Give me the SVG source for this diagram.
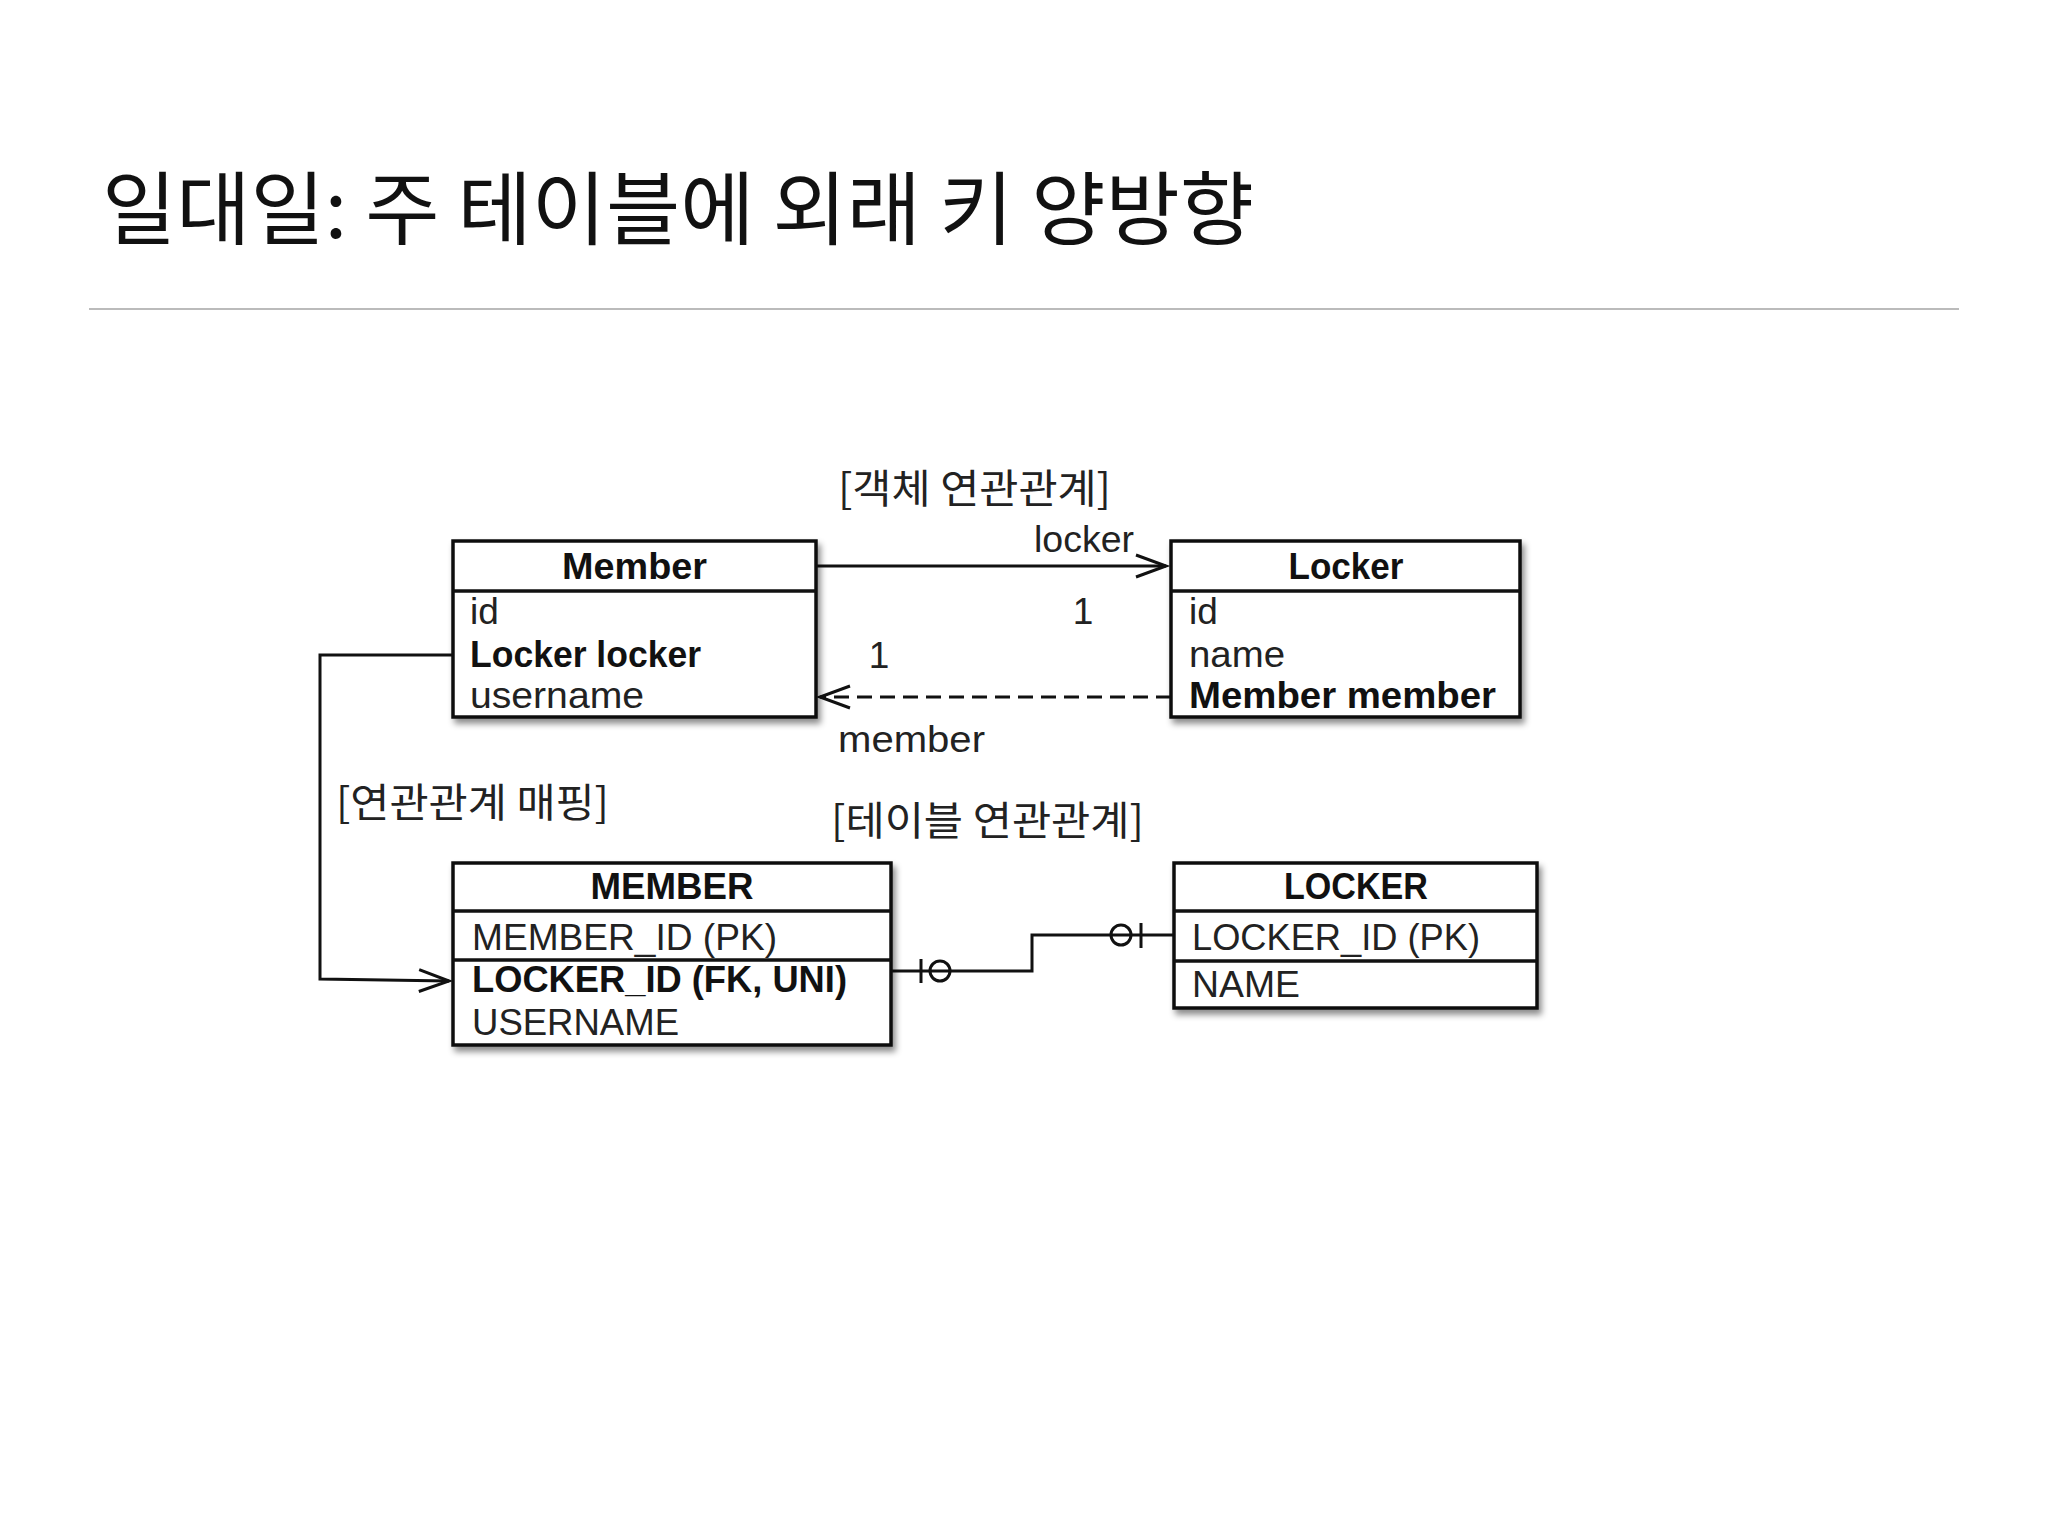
<svg xmlns="http://www.w3.org/2000/svg" width="2048" height="1536" viewBox="0 0 2048 1536">
<style>
  .title{font-family:"Noto Sans CJK KR","Noto Sans",sans-serif;font-size:80px;fill:#111}
  .ko{font-family:"Noto Sans CJK KR","Noto Sans",sans-serif;font-size:40px;fill:#222}
  .t{font-family:"Liberation Sans","Noto Sans",sans-serif;font-size:37px;fill:#222}
  .b{font-family:"Liberation Sans","Noto Sans",sans-serif;font-size:37px;font-weight:bold;fill:#111}
  .box{fill:#fff;stroke:#111;stroke-width:3.5}
  .sep{stroke:#111;stroke-width:3.5}
  .line{fill:none;stroke:#111;stroke-width:3}
</style>
<defs>
  <filter id="sh" x="-10%" y="-10%" width="125%" height="130%">
    <feDropShadow dx="3" dy="5" stdDeviation="3" flood-color="#000" flood-opacity="0.45"/>
  </filter>
  <marker id="arr" markerUnits="userSpaceOnUse" markerWidth="40" markerHeight="30" viewBox="-34 -15 40 30" refX="0" refY="0" orient="auto">
    <path d="M-30,-11 L0,0 L-30,11" fill="none" stroke="#111" stroke-width="3"/>
  </marker>
</defs>
<rect width="2048" height="1536" fill="#fff"/>
<text class="title" x="102" y="238" textLength="1152" lengthAdjust="spacingAndGlyphs">일대일: 주 테이블에 외래 키 양방향</text>
<line x1="89" y1="309" x2="1959" y2="309" stroke="#bbb" stroke-width="2"/>

<g id="labels">
  <text class="ko" x="838" y="503" textLength="273" lengthAdjust="spacingAndGlyphs">[객체 연관관계]</text>
  <text class="ko" x="336" y="817" textLength="273" lengthAdjust="spacingAndGlyphs">[연관관계 매핑]</text>
  <text class="ko" x="831" y="835" textLength="313" lengthAdjust="spacingAndGlyphs">[테이블 연관관계]</text>
  <text class="t" x="1034" y="552" textLength="100" lengthAdjust="spacingAndGlyphs">locker</text>
  <text class="t" x="838" y="752" textLength="147" lengthAdjust="spacingAndGlyphs">member</text>
  <text class="t" x="1083" y="624" text-anchor="middle">1</text>
  <text class="t" x="879" y="668" text-anchor="middle">1</text>
</g>

<g id="connectors">
  <line class="line" x1="816" y1="566" x2="1166" y2="566" marker-end="url(#arr)"/>
  <line class="line" x1="1171" y1="697" x2="820" y2="697" stroke-dasharray="15 8" marker-end="url(#arr)"/>
  <polyline class="line" points="453,655 320,655 320,979 449,981" marker-end="url(#arr)"/>
  <polyline class="line" points="891,971 1032,971 1032,935 1174,935"/>
  <line class="line" x1="921" y1="959" x2="921" y2="983"/>
  <circle class="line" cx="940" cy="971" r="10" fill="#fff"/>
  <circle class="line" cx="1121" cy="935" r="10" fill="#fff"/>
  <line class="line" x1="1141" y1="923" x2="1141" y2="948"/>
</g>

<g id="Member">
  <rect class="box" x="453" y="541" width="363" height="176" filter="url(#sh)"/>
  <line class="sep" x1="453" y1="591" x2="816" y2="591"/>
  <text class="b" x="634.5" y="579" text-anchor="middle" textLength="145" lengthAdjust="spacingAndGlyphs">Member</text>
  <text class="t" x="470" y="624">id</text>
  <text class="b" x="470" y="667" textLength="231" lengthAdjust="spacingAndGlyphs">Locker locker</text>
  <text class="t" x="470" y="708" textLength="174" lengthAdjust="spacingAndGlyphs">username</text>
</g>

<g id="Locker">
  <rect class="box" x="1171" y="541" width="349" height="176" filter="url(#sh)"/>
  <line class="sep" x1="1171" y1="591" x2="1520" y2="591"/>
  <text class="b" x="1346" y="579" text-anchor="middle" textLength="115" lengthAdjust="spacingAndGlyphs">Locker</text>
  <text class="t" x="1189" y="624">id</text>
  <text class="t" x="1189" y="667" textLength="96" lengthAdjust="spacingAndGlyphs">name</text>
  <text class="b" x="1189" y="708" textLength="307" lengthAdjust="spacingAndGlyphs">Member member</text>
</g>

<g id="MEMBER">
  <rect class="box" x="453" y="863" width="438" height="182" filter="url(#sh)"/>
  <line class="sep" x1="453" y1="911" x2="891" y2="911"/>
  <line class="sep" x1="453" y1="960" x2="891" y2="960"/>
  <text class="b" x="672" y="899" text-anchor="middle" textLength="163" lengthAdjust="spacingAndGlyphs">MEMBER</text>
  <text class="t" x="472" y="950" textLength="305" lengthAdjust="spacingAndGlyphs">MEMBER_ID (PK)</text>
  <text class="b" x="472" y="992" textLength="375" lengthAdjust="spacingAndGlyphs">LOCKER_ID (FK, UNI)</text>
  <text class="t" x="472" y="1035" textLength="207" lengthAdjust="spacingAndGlyphs">USERNAME</text>
</g>

<g id="LOCKER">
  <rect class="box" x="1174" y="863" width="363" height="145" filter="url(#sh)"/>
  <line class="sep" x1="1174" y1="911" x2="1537" y2="911"/>
  <line class="sep" x1="1174" y1="961" x2="1537" y2="961"/>
  <text class="b" x="1356" y="899" text-anchor="middle" textLength="144" lengthAdjust="spacingAndGlyphs">LOCKER</text>
  <text class="t" x="1192" y="950" textLength="288" lengthAdjust="spacingAndGlyphs">LOCKER_ID (PK)</text>
  <text class="t" x="1192" y="997" textLength="108" lengthAdjust="spacingAndGlyphs">NAME</text>
</g>
</svg>
